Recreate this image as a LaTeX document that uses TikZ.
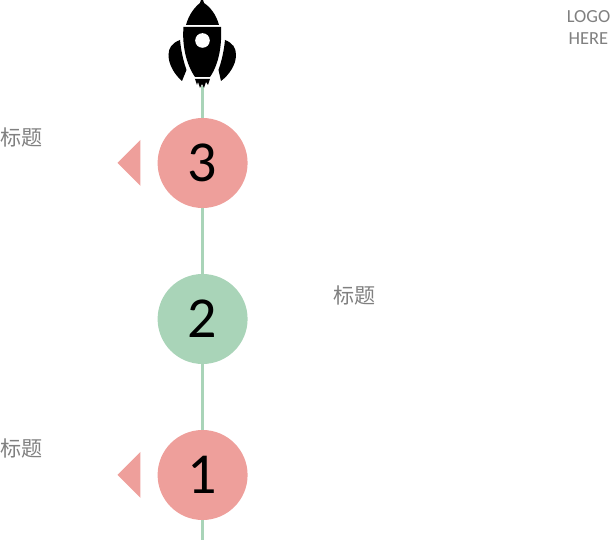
\documentclass[tikz,border=0pt]{standalone}
\usepackage{fontspec}
\setmainfont{Carlito}
\newfontfamily\cjk{Noto Sans CJK SC}
\definecolor{rosy}{HTML}{EE9F9B}
\definecolor{sage}{HTML}{A9D4B8}
\tikzset{
  stage/.style={circle, fill=#1, minimum size=90*.02cm, inner sep=0pt, outer sep=0pt, font=\fontsize{33}{33}\selectfont},
  spine/.style={draw=sage, line width=1.7pt},
  title/.style={text=black!50, font=\fontsize{12}{12}\selectfont\cjk, inner sep=0pt},
  logo/.style={text=black!50, font=\fontsize{10.5}{10.5}\selectfont, inner sep=0pt}
}
\begin{document}
\begin{tikzpicture}[x=.02cm,y=-.02cm]
    \useasboundingbox (0,0) rectangle (610,540);

    \node[stage=rosy] (three) at (202.6,163) {3};
    \node[stage=sage] (two) at (202.6,319) {2};
    \node[stage=rosy] (one) at (202.6,475) {1};
    \coordinate (tail) at (202.6,86);
    \coordinate (bottom) at (202.6,540);

    \draw[spine] (tail) -- (three);
    \draw[spine] (three) -- (two);
    \draw[spine] (two) -- (one);
    \draw[spine] (one) -- (bottom);

    \foreach \y in {163,475} {
      \fill[rosy] (140.5,\y-23) -- (117.5,\y) -- (140.5,\y+23) -- cycle;
    }

    % rocket
    \fill (186,25) .. controls (189,14) and (195,7) .. (200,3) -- (201,0) -- (203,0) -- (204,3)
      .. controls (210,7) and (216,14) .. (219,25) -- cycle;
    \fill (183.5,27) -- (221,27) .. controls (222,45) and (219,64) .. (210,77) -- (195,77)
      .. controls (186,64) and (182,45) .. (183.5,27) -- cycle;
    \fill[white] (202.5,40.5) circle[radius=7.3];
    \fill (180,40) .. controls (172,43) and (168.5,48) .. (168.5,55)
      .. controls (168.5,65) and (175,75) .. (182,81) -- (186.5,70) .. controls (183,60) and (181,50) .. (180,40) -- cycle;
    \fill (225,40) .. controls (233,43) and (236,48) .. (236,55)
      .. controls (236,65) and (229,75) .. (221,81) -- (218.5,70) .. controls (222,60) and (224,50) .. (225,40) -- cycle;
    \fill (195,79) -- (210,79) -- (208,85) -- (206,82) -- (204,88) -- (202,84) -- (200,88) -- (198,82) -- (197,85) -- cycle;

    \node[title] (titlea) at (21.5,137.5) {标题};
    \node[title] (titleb) at (354.5,295) {标题};
    \node[title] (titlec) at (21.5,448.5) {标题};

    \node[logo] (logoa) at (588.5,17) {LOGO};
    \node[logo] (logob) at (588.5,38.5) {HERE};
  \end{tikzpicture}
\end{document}
